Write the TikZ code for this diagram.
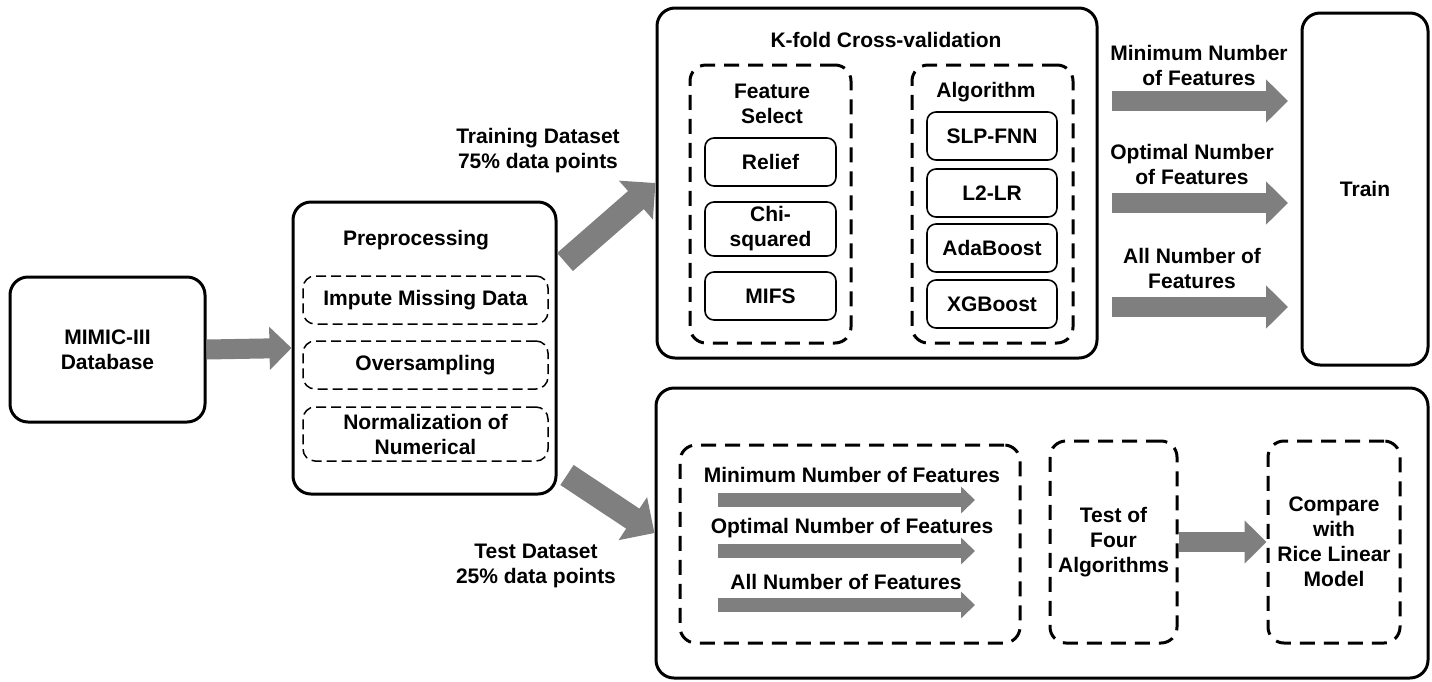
\documentclass[tikz,border=0pt]{standalone}
\usepackage{fontspec}
\setmainfont{Liberation Sans}
\usetikzlibrary{arrows.meta}
\definecolor{arrowgray}{HTML}{7F7F7F}
\begin{document}
\begin{tikzpicture}[x=1pt,y=-1pt,
  every node/.style={font=\fontsize{21}{25}\selectfont\bfseries, align=center, inner sep=0pt},
  solidbox/.style={draw, line width=3pt, rounded corners=18pt},
  bigdash/.style={draw, line width=3pt, dash pattern=on 15pt off 9pt, rounded corners=16pt},
  thindash/.style={draw, line width=1.5pt, dash pattern=on 10pt off 5pt, rounded corners=12pt},
  smallbox/.style={draw, line width=1.6pt, rounded corners=9pt, minimum width=131pt},
  fat/.style={draw=arrowgray, line width=20pt, -{Triangle[width=42pt,length=22pt]}},
  fatdiag/.style={draw=arrowgray, line width=24pt, -{Triangle[width=50pt,length=26pt]}},
  thinarrow/.style={draw=arrowgray, line width=14pt, -{Triangle[width=26pt,length=14pt]}}]
\useasboundingbox (0,0) rectangle (1432,681);

% database
\node[solidbox, minimum width=195pt, minimum height=145pt] (mimic) at (107.5,349.5) {MIMIC-III\\Database};

% preprocessing
\node[solidbox, minimum width=263pt, minimum height=292pt] (pre) at (424.5,348) {};
\node (pretitle) at (416,240) {Preprocessing};
\node[thindash, minimum width=245pt, minimum height=48pt] (impute) at (425.5,300) {Impute Missing Data};
\node[thindash, minimum width=245pt, minimum height=48pt] (over) at (425.5,365) {Oversampling};
\node[thindash, minimum width=245pt, minimum height=54pt] (norm) at (425.5,434) {Normalization of\\Numerical};

% cross-validation
\node[solidbox, minimum width=440pt, minimum height=350pt] (kfold) at (877,183) {};
\node (kftitle) at (886,40) {K-fold Cross-validation};
\node[bigdash, minimum width=161pt, minimum height=278pt] (fsel) at (770.5,204) {};
\node (fseltitle) at (772,104) {Feature\\Select};
\node[smallbox, minimum height=48pt] (relief) at (770.5,162) {Relief};
\node[smallbox, minimum height=54pt] (chi) at (770.5,229) {Chi-\\squared};
\node[smallbox, minimum height=48pt] (mifs) at (770.5,296) {MIFS};
\node[bigdash, minimum width=161pt, minimum height=278pt] (algo) at (992.5,204) {};
\node (algotitle) at (986,92) {Algorithm};
\node[smallbox, minimum width=130pt, minimum height=48pt] (slp) at (992,136) {SLP-FNN};
\node[smallbox, minimum width=130pt, minimum height=48pt] (l2) at (992,193) {L2-LR};
\node[smallbox, minimum width=130pt, minimum height=48pt] (ada) at (992,248) {AdaBoost};
\node[smallbox, minimum width=130pt, minimum height=48pt] (xgb) at (992,304) {XGBoost};

% training
\node[solidbox, minimum width=126pt, minimum height=352pt] (train) at (1365,189) {Train};
\coordinate (m0) at (1112,101); \coordinate (m1) at (1288,101);
\coordinate (o0) at (1112,203); \coordinate (o1) at (1288,203);
\coordinate (a0) at (1112,307); \coordinate (a1) at (1288,307);
\draw[fat] (m0) -- (m1);
\draw[fat] (o0) -- (o1);
\draw[fat] (a0) -- (a1);
\node (mlbl) at (1199,65) {Minimum Number\\of Features};
\node (olbl) at (1192,164) {Optimal Number\\of Features};
\node (albl) at (1192,268) {All Number of\\Features};

% testing
\node[solidbox, minimum width=772pt, minimum height=290pt] (test) at (1042,533) {};
\node[bigdash, minimum width=340pt, minimum height=198pt] (feat) at (850,544) {};
\node (tmin) at (852,475) {Minimum Number of Features};
\node (topt) at (852,528) {Optimal Number of Features};
\node (tall) at (846,582) {All Number of Features};
\coordinate (b0) at (718,500); \coordinate (b1) at (975,500);
\coordinate (c0) at (718,551); \coordinate (c1) at (975,551);
\coordinate (d0) at (718,605); \coordinate (d1) at (975,605);
\draw[thinarrow] (b0) -- (b1);
\draw[thinarrow] (c0) -- (c1);
\draw[thinarrow] (d0) -- (d1);
\node[bigdash, minimum width=127pt, minimum height=202pt] (four) at (1113.5,542) {Test of\\Four\\Algorithms};
\node[bigdash, minimum width=132pt, minimum height=202pt] (rice) at (1334,542) {Compare\\with\\Rice Linear\\Model};

% flow between stages
\draw[fat] (mimic.east) -- (pre.west);
\draw[fatdiag] (565,262) -- (kfold.west);
\draw[fatdiag] (567,475) -- (test.west);
\draw[fat] (four.east) -- (rice.west);
\node (trainlbl) at (538,151) {Training Dataset\\75\% data points};
\node (testlbl) at (536,566) {Test Dataset\\25\% data points};
\end{tikzpicture}
\end{document}
